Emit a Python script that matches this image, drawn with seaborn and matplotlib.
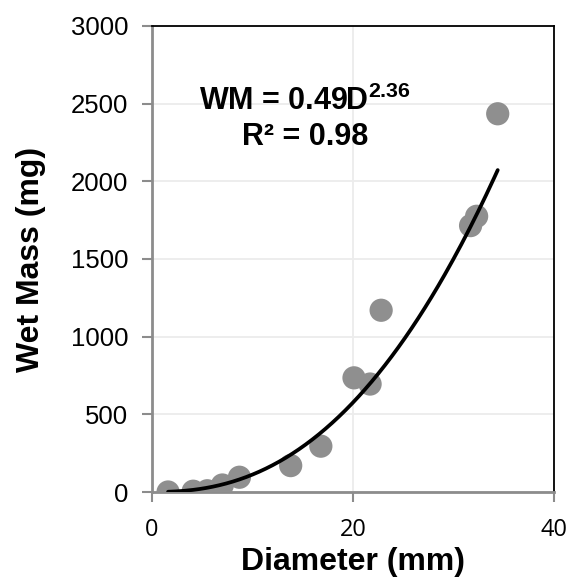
import numpy as np
import pandas as pd
import matplotlib
matplotlib.use("Agg")
import matplotlib.pyplot as plt
import seaborn as sns

# Data
diameter_mm = [1.6, 4.1, 5.5, 7.0, 8.7, 13.8, 16.8, 20.1, 21.7, 22.8, 31.7, 32.3, 34.4]
wet_mass_mg = [0, 5, 8, 45, 95, 170, 295, 735, 695, 1170, 1715, 1775, 2435]
fit_coef = 0.49
fit_exp = 2.36
r_squared = 0.98
x_ticks = [0, 20, 40]
y_ticks = [0, 500, 1000, 1500, 2000, 2500, 3000]

sns.set_theme(style="white")
plt.rcParams['font.family'] = ['Liberation Sans', 'DejaVu Sans']
plt.rcParams['text.color'] = 'black'
plt.rcParams['axes.labelcolor'] = 'black'
plt.rcParams['xtick.color'] = 'black'
plt.rcParams['ytick.color'] = 'black'
plt.rcParams['mathtext.fontset'] = 'custom'
plt.rcParams['mathtext.rm'] = 'Liberation Sans'
plt.rcParams['mathtext.bf'] = 'Liberation Sans:bold'

df = pd.DataFrame({"Diameter": diameter_mm, "WetMass": wet_mass_mg})

fig = plt.figure(figsize=(5.68, 5.83), dpi=100)
ax = fig.add_axes([152/568, (583-492)/583, (554-152)/568, (492-26)/583])

# gridlines
ax.set_axisbelow(True)
ax.grid(True, color="#ececec", linewidth=1.3)

sns.scatterplot(data=df, x="Diameter", y="WetMass", ax=ax, s=280,
                color="#8f8f8f", edgecolor="none", zorder=3)

xf = np.linspace(min(diameter_mm), max(diameter_mm), 200)
sns.lineplot(x=xf, y=fit_coef * xf ** fit_exp, ax=ax, color="black",
             linewidth=2.7, zorder=4)

ax.set_xlim(0, 40)
ax.set_ylim(0, 3000)
ax.set_xticks(x_ticks)
ax.set_yticks(y_ticks)
ax.set_xticklabels([str(v) for v in x_ticks], fontsize=17, family=['Open Sans', 'DejaVu Sans'])
ax.set_yticklabels([str(v) for v in y_ticks], fontsize=18.5)

for side in ["left", "bottom"]:
    ax.spines[side].set_color("#8c8c8c")
    ax.spines[side].set_linewidth(2)
for side in ["top", "right"]:
    ax.spines[side].set_color("black")
    ax.spines[side].set_linewidth(1.3)
    ax.spines[side].set_visible(True)

ax.tick_params(axis="both", which="major", direction="out", length=7,
               width=1.5, color="#8c8c8c", labelcolor="black",
               bottom=True, left=True, top=False, right=False)
ax.tick_params(axis="y", pad=10)
ax.tick_params(axis="x", pad=12)

ax.set_xlabel("Diameter (mm)", fontsize=23, fontweight="bold", labelpad=3)
ax.set_ylabel("Wet Mass (mg)", fontsize=23, fontweight="bold", labelpad=18)

ax.text(15.2, 2515, r"WM = 0.49D$^{\mathbf{2.36}}$", fontsize=22, fontweight="bold",
        ha="center", va="center", zorder=5)
ax.text(15.2, 2285, "R² = %.2f" % r_squared, fontsize=22, fontweight="bold",
        ha="center", va="center", zorder=5)

fig.savefig("out.png", dpi=100)
